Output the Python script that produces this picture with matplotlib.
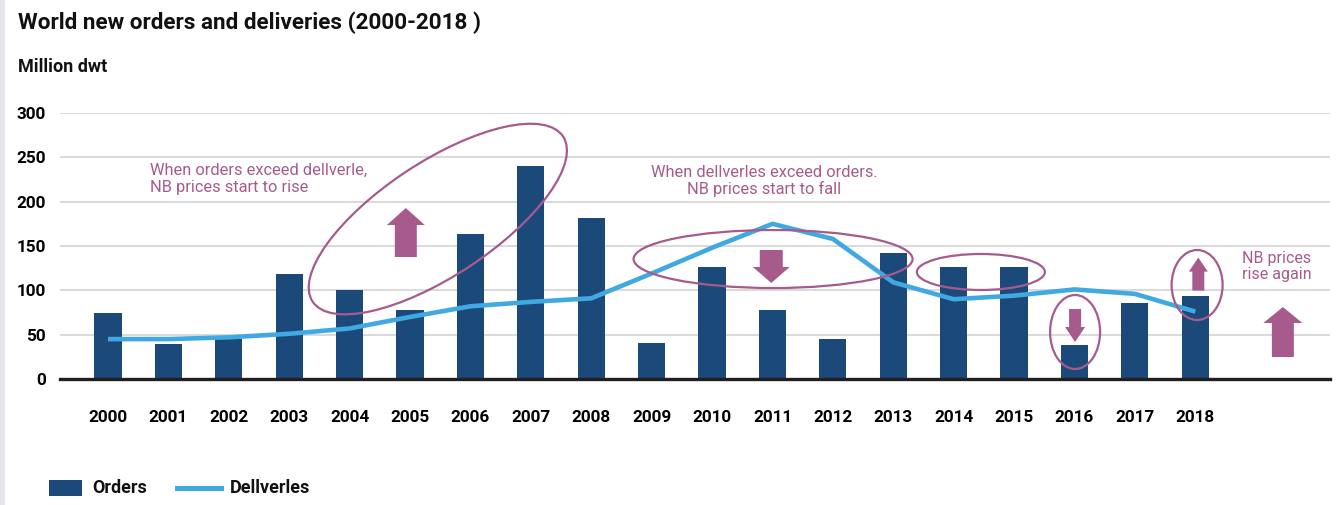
import matplotlib
matplotlib.use("Agg")
import matplotlib.pyplot as plt
import matplotlib.transforms as mtransforms
from matplotlib.patches import Ellipse, Polygon, Rectangle
from matplotlib.lines import Line2D

# ---------------- data ----------------
years = [str(y) for y in range(2000, 2019)]
orders = [75, 40, 45, 118, 100, 78, 163, 240, 182, 41, 126, 78, 45, 142, 126, 126, 38, 86, 94]
deliveries = [45, 45, 47, 51, 57, 70, 82, 87, 91, 119, 148, 175, 158, 109, 90, 94, 101, 96, 76]
yticks = [0, 50, 100, 150, 200, 250, 300]

title = "World new orders and deliveries (2000-2018 )"
unit = "Million dwt"
note1 = "When orders exceed dellverle,\nNB prices start to rise"
note2 = "When dellverles exceed orders.\nNB prices start to fall"
note3 = "NB prices\nrise again"

BAR = "#1b4a7a"
LINE = "#41a9e1"
ANN = "#a65b8c"
FONT = "Roboto"

W, H = 1336, 505
fig = plt.figure(figsize=(W / 100, H / 100), dpi=100)
ax = fig.add_axes([60 / W, 126 / H, 1270 / W, 266 / H])

x = list(range(len(years)))
ax.bar(x, orders, width=0.45, color=BAR, zorder=2)
ax.plot(x, deliveries, color=LINE, lw=3.3, zorder=3, solid_capstyle="butt")

ax.set_xlim(-0.795, 20.23)
ax.set_ylim(0, 300)
ax.set_yticks(yticks)
ax.set_yticklabels([str(v) for v in yticks], fontsize=12.3, fontweight="bold", family=FONT)
ax.set_xticks(x)
ax.set_xticklabels(years, fontsize=12.3, fontweight="bold", family=FONT)
ax.tick_params(axis="both", length=0)
ax.tick_params(axis="y", pad=10)
ax.tick_params(axis="x", pad=22)
for s in ["top", "right", "left"]:
    ax.spines[s].set_visible(False)
ax.spines["bottom"].set_color("#231f20")
ax.spines["bottom"].set_linewidth(2.4)
ax.spines["bottom"].set_zorder(4)
ax.yaxis.grid(True, color="#d9d9d9", lw=1.4, zorder=0)
ax.set_axisbelow(True)

# ---------------- annotations ----------------
def at(xd, yd):
    return mtransforms.Affine2D().translate(*ax.transData.transform((xd, yd)))

ellipses = [  # (x, y data centre, width px, height px, angle)
    (5.46, 180.4, 300, 114, 33.4),
    (11.01, 135.3, 279, 58, 0),
    (14.45, 120.7, 128, 36, 0),
    (16.01, 53.0, 50, 74, 0),
    (18.03, 106.0, 51, 70, 0),
]
for xc, yc, w, h, a in ellipses:
    ax.add_patch(Ellipse((0, 0), w, h, angle=a, transform=at(xc, yc),
                         fill=False, ec=ANN, lw=1.6, clip_on=False, zorder=5))

arrows = [  # tip (x, y data), direction, shaft half, head half, head len, total len (px)
    (4.93, 192.8, 1, 11, 19, 17, 49),
    (10.98, 108.3, -1, 11.5, 18.5, 16, 33),
    (16.01, 41.7, -1, 6, 10, 15, 33),
    (18.05, 136.9, 1, 6, 9.5, 14, 33),
    (19.45, 81.2, 1, 11, 19.5, 16, 50),
]
for xt, yt, d, sh, hh, hl, L in arrows:
    pts = [(0, 0), (hh, -d * hl), (sh, -d * hl), (sh, -d * L),
           (-sh, -d * L), (-sh, -d * hl), (-hh, -d * hl)]
    ax.add_patch(Polygon(pts, closed=True, transform=at(xt, yt),
                         fc=ANN, ec="none", clip_on=False, zorder=5))

ax.text(0.70, 225.6, note1, color=ANN, fontsize=11.8, family=FONT, ha="left",
        va="center", linespacing=1.15, zorder=6)
ax.text(10.86, 223.3, note2, color=ANN, fontsize=11.8, family=FONT, ha="center",
        va="center", linespacing=1.15, zorder=6)
ax.text(19.35, 126.9, note3, color=ANN, fontsize=11.5, family=FONT, ha="center",
        va="center", linespacing=1.15, zorder=6)

# ---------------- titles ----------------
fig.text(18 / W, (H - 29) / H, title, fontsize=16.2, fontweight="bold",
         family=FONT, ha="left", va="baseline", color="#111111")
fig.text(18 / W, (H - 72) / H, unit, fontsize=13, fontweight="bold",
         family=FONT, ha="left", va="baseline", color="#111111")

# ---------------- legend ----------------
fig.patches.append(Rectangle((49 / W, (H - 496) / H), 33 / W, 16 / H,
                             transform=fig.transFigure, fc=BAR, ec="none"))
fig.text(92 / W, (H - 488) / H, "Orders", fontsize=13, fontweight="bold",
         family=FONT, ha="left", va="center", color="#111111")
fig.lines.append(Line2D([177 / W, 221 / W], [(H - 488) / H] * 2,
                        transform=fig.transFigure, color=LINE, lw=3.6))
fig.text(230 / W, (H - 488) / H, "Dellverles", fontsize=13, fontweight="bold",
         family=FONT, ha="left", va="center", color="#111111")

# left grey strip
fig.patches.append(Rectangle((0, 0), 5 / W, 1, transform=fig.transFigure,
                             fc="#e6e6ea", ec="none"))

fig.savefig("out.png", dpi=100)
